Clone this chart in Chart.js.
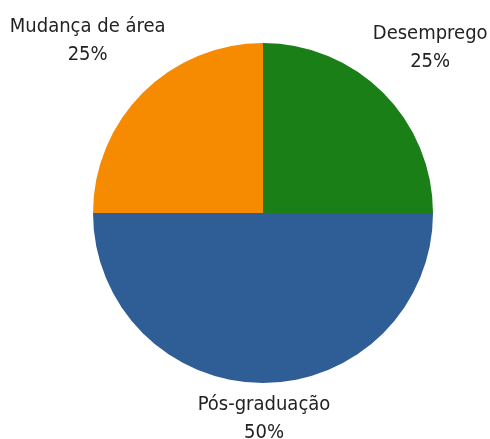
<!DOCTYPE html>
<html lang="pt">
  <head>
    <meta charset="UTF-8" />
    <title>Pie</title>
    <script src="https://cdn.jsdelivr.net/npm/chart.js@4"></script>
    <style>
      html, body { margin: 0; padding: 0; background: #fff; }
      .chart-container { position: relative; width: 490px; height: 439px; }
    </style>
  </head>
  <body>
    <div class="chart-container">
      <canvas id="chart"></canvas>
    </div>
    <script>
      // data, clockwise from 12 o'clock
      const labels = ['Desemprego', 'Pós-graduação', 'Mudança de área'];
      const values = [25, 50, 25];
      const colors = ['#1a7f16', '#2f5e96', '#f68a00'];

      const labelFont = '20px "DejaVu Sans Condensed", "Liberation Sans Narrow", sans-serif';

      // draws "name / percent" outside each slice
      const outsideLabels = {
        id: 'outsideLabels',
        afterDatasetsDraw(chart) {
          const ctx = chart.ctx;
          const meta = chart.getDatasetMeta(0);
          const total = values.reduce((a, b) => a + b, 0);
          const offsets = [
            { dx: 1, dy: 1, d: 65 },
            { dx: 1, dy: 1, d: 35 },
            { dx: 0, dy: 3, d: 78 }
          ];
          ctx.save();
          ctx.font = labelFont;
          ctx.fillStyle = '#222';
          ctx.textAlign = 'center';
          ctx.textBaseline = 'middle';
          meta.data.forEach((arc, i) => {
            const p = arc.getProps(['x', 'y', 'startAngle', 'endAngle', 'outerRadius'], true);
            const mid = (p.startAngle + p.endAngle) / 2;
            const r = p.outerRadius + offsets[i].d;
            const x = p.x + Math.cos(mid) * r + offsets[i].dx;
            const y = p.y + Math.sin(mid) * r + offsets[i].dy;
            const pct = Math.round(values[i] / total * 100) + '%';
            ctx.fillText(labels[i], x, y - 14);
            ctx.fillText(pct, x, y + 14);
          });
          ctx.restore();
        }
      };

      new Chart(document.getElementById('chart'), {
        type: 'pie',
        data: {
          labels: labels,
          datasets: [{
            data: values,
            backgroundColor: colors,
            borderWidth: 0
          }]
        },
        options: {
          responsive: true,
          maintainAspectRatio: false,
          animation: false,
          layout: { padding: { left: 93, right: 57, top: 43, bottom: 56 } },
          plugins: {
            legend: { display: false },
            tooltip: { enabled: false }
          }
        },
        plugins: [outsideLabels]
      });
    </script>
  </body>
</html>
